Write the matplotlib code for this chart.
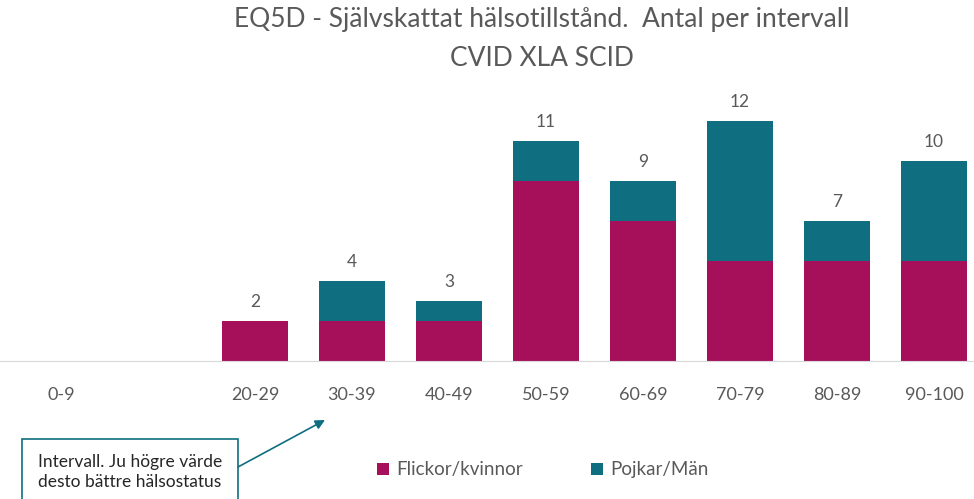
import numpy as np
import matplotlib.pyplot as plt
from matplotlib.patches import Rectangle

plt.rcParams['font.family'] = ['Lato', 'DejaVu Sans']

# data
intervall = ['0-9', '', '20-29', '30-39', '40-49', '50-59', '60-69', '70-79', '80-89', '90-100']
flickor = [0, 0, 2, 2, 2, 9, 7, 5, 5, 5]
pojkar = [0, 0, 0, 2, 1, 2, 2, 7, 2, 5]
totalt_etikett = ['', '', '2', '4', '3', '11', '9', '12', '7', '10']

c_flick = '#A6105A'
c_pojk = '#0F6E7F'
grå = '#595959'

W, H = 974, 499
fig = plt.figure(figsize=(W / 100, H / 100), dpi=100)

# axes: baseline at px 361, 20 px per unit, slot width 97 px, first slot at px 61
y_bas = 361
ax = fig.add_axes([0, (H - y_bas) / H, 1, 280 / H])
x = np.arange(len(intervall))
ax.set_xlim((0 - 61) / 97, (W - 61) / 97)
ax.set_ylim(0, 14)

ax.bar(x, flickor, width=0.68, color=c_flick, label='Flickor/kvinnor')
ax.bar(x, pojkar, width=0.68, bottom=flickor, color=c_pojk, label='Pojkar/Män')

tot = np.array(flickor) + np.array(pojkar)
for xi, t, lab in zip(x, tot, totalt_etikett):
    if lab:
        ax.text(xi, t + 0.55, lab, ha='center', va='bottom', fontsize=12.5, color=grå)

for s in ['top', 'right', 'left']:
    ax.spines[s].set_visible(False)
ax.spines['bottom'].set_color('#D9D9D9')
ax.set_yticks([])
ax.set_xticks(x)
ax.set_xticklabels(intervall, fontsize=13, color=grå)
ax.tick_params(axis='x', length=0, pad=19)

fig.text(542 / W, 1 - 20 / H, 'EQ5D - Självskattat hälsotillstånd.  Antal per intervall',
         ha='center', va='center', fontsize=19, color=grå)
fig.text(542 / W, 1 - 58 / H, 'CVID XLA SCID', ha='center', va='center',
         fontsize=19, color=grå)

leg = fig.legend(loc='center', bbox_to_anchor=(543 / W, 1 - 470 / H), ncol=2,
                 frameon=False, fontsize=13.5, handlelength=0.65, handleheight=0.65,
                 handletextpad=0.4, columnspacing=3.6)
for t in leg.get_texts():
    t.set_color(grå)

# annotation box
fig.patches.append(Rectangle((22 / W, 1 - 510 / H), 216 / W, 71 / H,
                             transform=fig.transFigure, fill=False,
                             edgecolor=c_pojk, linewidth=1.2))
fig.text(130 / W, 1 - 472 / H, 'Intervall. Ju högre värde\ndesto bättre hälsostatus',
         ha='center', va='center', fontsize=12.5, color='#262626', linespacing=1.35)
ax.annotate('', xy=(325 / W, 1 - 420 / H), xytext=(238 / W, 1 - 467 / H),
            xycoords='figure fraction', textcoords='figure fraction',
            arrowprops=dict(arrowstyle='-|>', color=c_pojk, lw=1.2,
                            mutation_scale=14, shrinkA=0, shrinkB=0),
            annotation_clip=False)

fig.savefig('out.png', dpi=100)
